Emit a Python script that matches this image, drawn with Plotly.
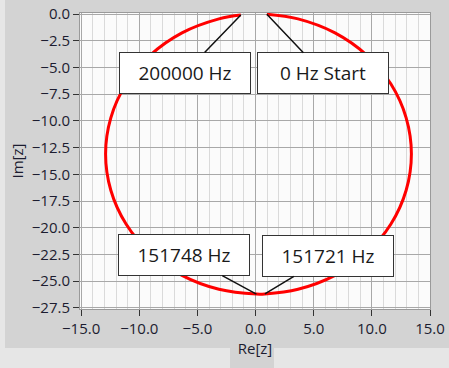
import plotly.graph_objects as go

# Impedance locus (Re[z], Im[z]), from 0 Hz round to 200000 Hz
re_z = [0.97, 3.65, 6.83, 9.55, 11.64, 12.95, 13.40, 12.95, 11.64, 9.55, 6.83, 3.65,
        0.80, 0.07, -3.15, -6.33, -9.05, -11.14, -12.45, -12.90, -12.45, -11.14,
        -9.05, -6.33, -3.15, -1.27]
im_z = [-0.02, -0.45, -1.76, -3.84, -6.55, -9.71, -13.10, -16.49, -19.65, -22.36,
        -24.45, -25.75, -26.19, -26.20, -25.75, -24.45, -22.36, -19.65, -16.49,
        -13.10, -9.71, -6.55, -3.84, -1.76, -0.45, -0.09]

# Labelled points: (index into the arrays, label)
marker_idx = [0, len(re_z) - 1, 13, 12]
marker_labels = ["0 Hz Start", "200000 Hz", "151748 Hz", "151721 Hz"]
# label box offsets in pixels
label_ax = [56, -56, -72, 63]
label_ay = [59, 58, -39, -38]

x_ticks = [-15.0, -10.0, -5.0, 0.0, 5.0, 10.0, 15.0]
y_ticks = [0.0, -2.5, -5.0, -7.5, -10.0, -12.5, -15.0, -17.5, -20.0, -22.5, -25.0, -27.5]

fig = go.Figure()
fig.add_trace(go.Scatter(x=re_z, y=im_z, mode="lines",
                         line=dict(color="#ff0000", width=3, shape="spline", smoothing=1.0),
                         hoverinfo="skip", showlegend=False))

for i, lab, ax, ay in zip(marker_idx, marker_labels, label_ax, label_ay):
    fig.add_annotation(x=re_z[i], y=im_z[i], xref="x", yref="y", text=lab,
                       showarrow=True, arrowhead=0, arrowwidth=1.5, arrowcolor="#111111",
                       ax=ax, ay=ay, standoff=0,
                       bgcolor="#ffffff", bordercolor="#333333", borderwidth=1, borderpad=1,
                       width=128, height=38,
                       font=dict(family="Open Sans", size=19, color="#1a1a1a"))

tick_font = dict(family="Open Sans", size=15, color="#1c1c30")
fig.update_xaxes(range=[-15.1, 15.0], tickvals=x_ticks, tickformat=".1f", automargin=False,
                 ticks="outside", ticklen=6, tickcolor="#333333", tickwidth=1,
                 showgrid=True, gridcolor="#a8a8a8", gridwidth=1, zeroline=False,
                 minor=dict(dtick=1, showgrid=True, gridcolor="#dadada", gridwidth=1, ticks=""),
                 showline=True, linecolor="#9a9a9a", mirror=True,
                 tickfont=tick_font,
                 title=dict(text="Re[z]", font=dict(family="Open Sans", size=15, color="#1c1c30"),
                            standoff=4))
fig.update_yaxes(range=[-27.6, 0.1], tickvals=y_ticks, tickformat=".1f", automargin=False,
                 ticks="outside", ticklen=6, tickcolor="#333333", tickwidth=1,
                 showgrid=True, gridcolor="#a8a8a8", gridwidth=1, zeroline=False,
                 showline=True, linecolor="#9a9a9a", mirror=True,
                 tickfont=tick_font,
                 title=dict(text="Im[z]", font=dict(family="Open Sans", size=15, color="#1c1c30"),
                            standoff=4))

# lighter frame around the grey panel
W, H = 350.0, 296.0
def px_x(p):
    return (p - 80) / W
def px_y(p):
    return 1 - (p - 13) / H
light = "#e6e6e6"
fig.add_shape(type="rect", xref="paper", yref="paper", x0=px_x(-5), x1=px_x(5),
              y0=px_y(380), y1=px_y(-5), fillcolor=light, line_width=0, layer="below")
fig.add_shape(type="rect", xref="paper", yref="paper", x0=px_x(-5), x1=px_x(230),
              y0=px_y(380), y1=px_y(348), fillcolor=light, line_width=0, layer="below")
fig.add_shape(type="rect", xref="paper", yref="paper", x0=px_x(274), x1=px_x(460),
              y0=px_y(380), y1=px_y(348), fillcolor=light, line_width=0, layer="below")

fig.update_layout(width=449, height=368, autosize=False,
                  margin=dict(l=80, r=19, t=13, b=59),
                  paper_bgcolor="#d3d3d3", plot_bgcolor="#fbfbfb",
                  showlegend=False)

fig.write_html("out.html", config={"displayModeBar": False},
               post_script="document.body.style.margin='0px';")
